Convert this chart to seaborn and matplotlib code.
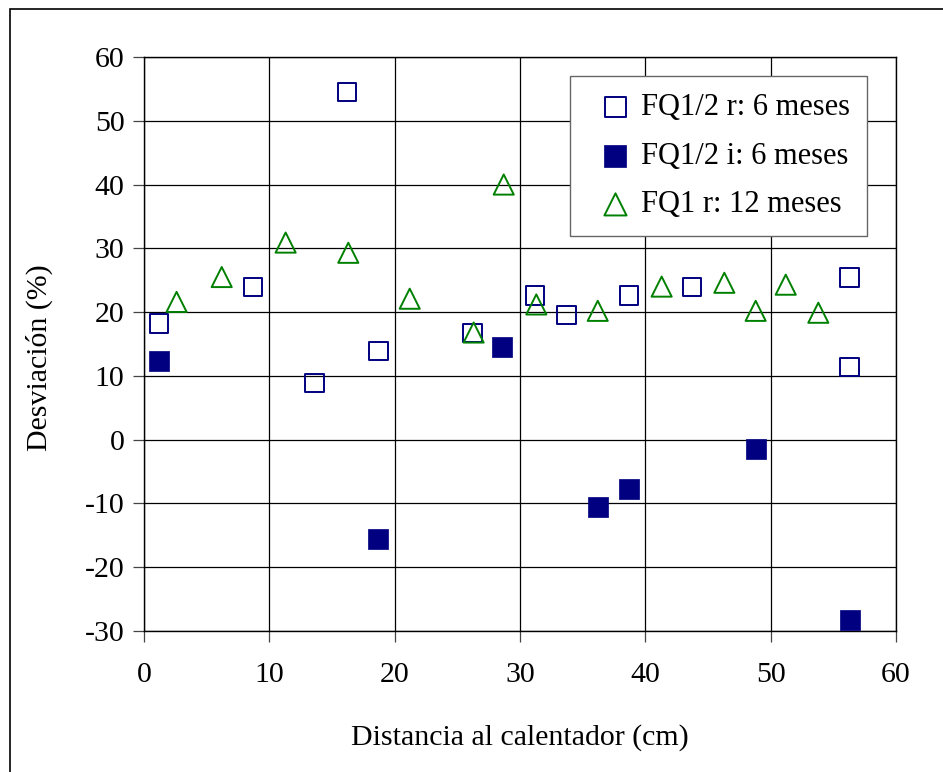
import numpy as np
import pandas as pd
import matplotlib
matplotlib.use('Agg')
import matplotlib.pyplot as plt
import seaborn as sns
from matplotlib.patches import Rectangle

sns.set_style('white')
plt.rcParams['font.family'] = ['Liberation Serif', 'DejaVu Serif']
plt.rcParams['axes.unicode_minus'] = False
plt.rcParams['text.color'] = 'black'
plt.rcParams['axes.labelcolor'] = 'black'

# FQ1/2 r: 6 meses (open squares)
r6_x = [1.2, 8.7, 13.6, 16.2, 18.7, 26.2, 31.2, 33.7, 38.7, 43.7, 56.3, 56.3]
r6_y = [18.2, 23.9, 8.9, 54.5, 13.9, 16.7, 22.6, 19.5, 22.6, 23.9, 25.4, 11.4]

# FQ1/2 i: 6 meses (filled squares)
i6_x = [1.2, 18.7, 28.6, 36.2, 38.7, 48.8, 56.3]
i6_y = [12.3, -15.5, 14.5, -10.5, -7.7, -1.4, -28.3]

# FQ1 r: 12 meses (open triangles)
r12_x = [2.6, 6.2, 11.3, 16.3, 21.2, 26.3, 28.7, 31.3, 36.2, 41.3, 46.3, 48.8, 51.2, 53.8]
r12_y = [21.6, 25.5, 30.9, 29.3, 22.1, 16.8, 40.0, 21.2, 20.2, 24.0, 24.6, 20.2, 24.3, 19.9]

labels = ['FQ1/2 r: 6 meses', 'FQ1/2 i: 6 meses', 'FQ1 r: 12 meses']
xticks = [0, 10, 20, 30, 40, 50, 60]
yticks = [-30, -20, -10, 0, 10, 20, 30, 40, 50, 60]

navy = '#000080'
green = '#008000'
FS = 21.5

fig = plt.figure(figsize=(9.43, 7.72), dpi=100)
ax = fig.add_axes([0.1527, 0.1826, 0.7975, 0.7436])

sns.scatterplot(x=r6_x, y=r6_y, ax=ax, marker='s', s=175, facecolor='none',
                edgecolor=navy, linewidth=1.4, label=labels[0], zorder=3)
sns.scatterplot(x=i6_x, y=i6_y, ax=ax, marker='s', s=190, color=navy,
                edgecolor=navy, linewidth=0.5, label=labels[1], zorder=3)
sns.scatterplot(x=r12_x, y=r12_y, ax=ax, marker='^', s=210, facecolor='none',
                edgecolor=green, linewidth=1.4, label=labels[2], zorder=4)

ax.set_xlim(0, 60)
ax.set_ylim(-30, 60)
ax.set_xticks(xticks)
ax.set_yticks(yticks)
ax.grid(True, color='black', lw=0.9)
ax.set_axisbelow(True)
for sp in ax.spines.values():
    sp.set_color('black')
    sp.set_linewidth(1.0)
ax.tick_params(axis='both', direction='out', length=8, width=0.9, color='#444444',
               labelsize=FS, labelcolor='black', bottom=True, left=True)
ax.tick_params(axis='y', pad=6)
ax.tick_params(axis='x', pad=14)

ax.set_xlabel('Distancia al calentador (cm)', fontsize=FS, labelpad=26)
ax.set_ylabel('Desviación (%)', fontsize=FS)
ax.yaxis.set_label_coords(-0.121, 0.477)

leg = ax.legend(loc='upper left', bbox_to_anchor=(0.566, 0.966), fontsize=22,
                frameon=True, fancybox=False, edgecolor='#666666', framealpha=1,
                handlelength=1.9, handletextpad=-0.1, labelspacing=0.64,
                borderpad=0.55, borderaxespad=0, markerscale=1.1)
leg.get_frame().set_linewidth(1.0)

# outer chart border
fig.patches.append(Rectangle((10 / 943, -0.05), 1.1, 1 - 9 / 772 + 0.05,
                             transform=fig.transFigure, fill=False,
                             edgecolor='black', lw=1.2))

fig.savefig('out.png', dpi=100)
